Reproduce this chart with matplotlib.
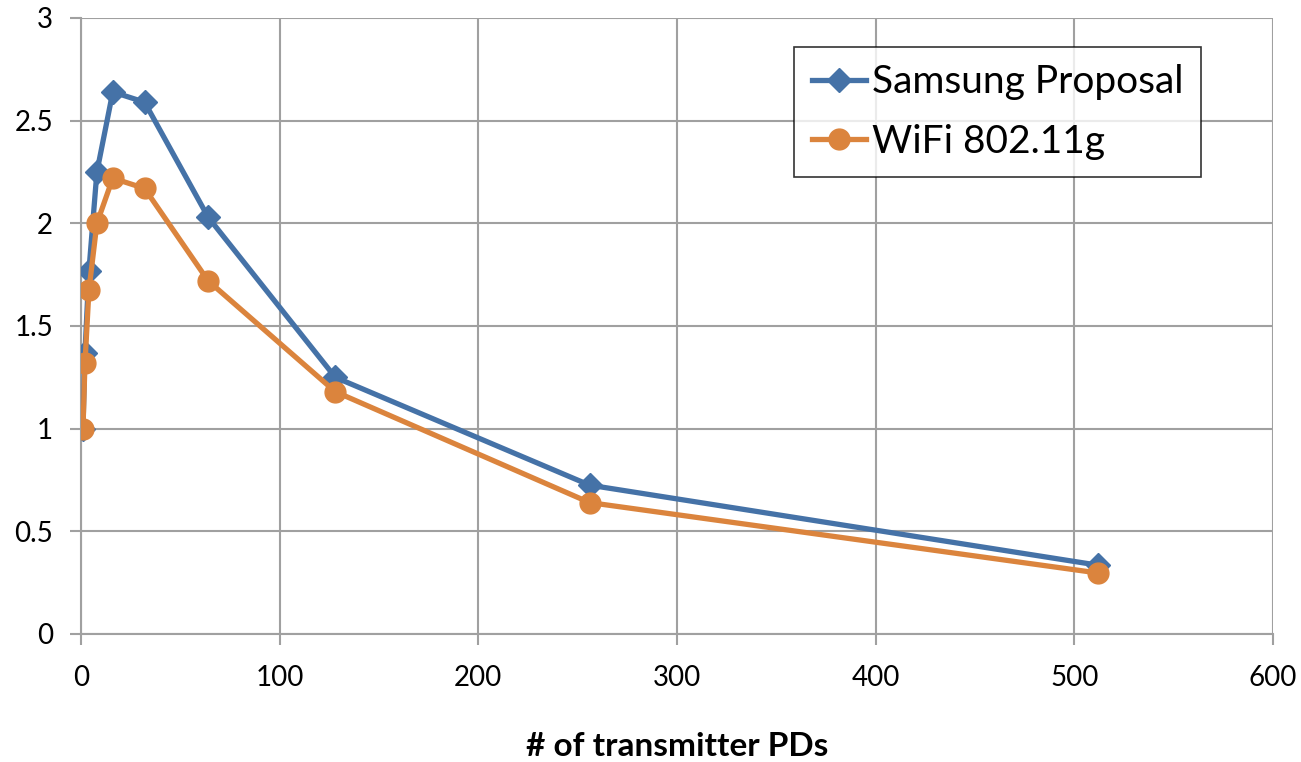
import matplotlib.pyplot as plt

plt.rcParams['font.family'] = ['Lato', 'DejaVu Sans']

# transmitter PD counts and normalised throughput for each scheme
pds = [1, 2, 4, 8, 16, 32, 64, 128, 256, 512]
samsung = [1.0, 1.37, 1.77, 2.25, 2.64, 2.59, 2.03, 1.25, 0.725, 0.335]
wifi = [1.0, 1.32, 1.675, 2.0, 2.22, 2.17, 1.72, 1.18, 0.64, 0.297]

fig = plt.figure(figsize=(13.01, 7.62), dpi=100)
ax = fig.add_axes([81 / 1301, 1 - 634 / 762, (1273 - 81) / 1301, (634 - 18) / 762])

ax.plot(pds, samsung, color='#4572A7', lw=3.8, marker='D', ms=12,
        label='Samsung Proposal', zorder=3)
ax.plot(pds, wifi, color='#DB843D', lw=3.8, marker='o', ms=15,
        label='WiFi 802.11g', zorder=4)

ax.set_xlim(0, 600)
ax.set_ylim(0, 3)
ax.set_xticks(range(0, 601, 100))
ax.set_yticks([0, 0.5, 1, 1.5, 2, 2.5, 3])
ax.set_yticklabels(['0', '0.5', '1', '1.5', '2', '2.5', '3'])

grid_col = '#A0A0A0'
ax.grid(True, color=grid_col, lw=1.5)
ax.set_axisbelow(True)
for side in ['top', 'right']:
    ax.spines[side].set_visible(False)
for side in ['left', 'bottom']:
    ax.spines[side].set_color(grid_col)
    ax.spines[side].set_linewidth(1.5)
ax.tick_params(colors=grid_col, width=1.5, length=8, labelsize=20,
               labelcolor='black')
ax.tick_params(axis='x', pad=14)
ax.tick_params(axis='y', pad=12)

ax.set_xlabel('# of transmitter PDs', fontsize=24, fontweight='bold', labelpad=30)

leg = ax.legend(loc='upper right', fontsize=28, frameon=True, fancybox=False,
                handlelength=1.4, handletextpad=0.15, borderpad=0.45,
                labelspacing=0.6, borderaxespad=0)
leg.set_bbox_to_anchor(((1201 - 81) / (1273 - 81), 1 - (47 - 18) / 616),
                       transform=ax.transAxes)
leg.get_frame().set_edgecolor('black')
leg.get_frame().set_linewidth(1.2)

fig.savefig('out.png', dpi=100)
